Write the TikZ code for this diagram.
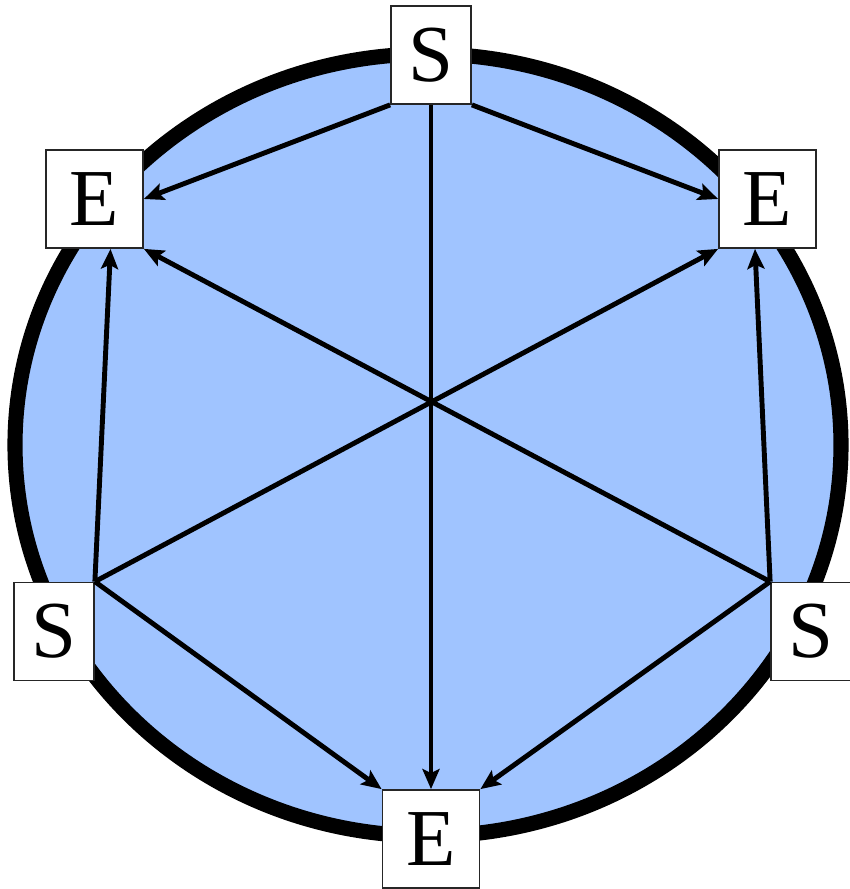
\documentclass[tikz,border=0pt]{standalone}
\usepackage{fontspec}
\setmainfont{Liberation Serif}
\usetikzlibrary{arrows.meta,positioning}
\definecolor{sky}{RGB}{160,196,255}
\definecolor{ink}{RGB}{0,0,0}
\tikzset{
  >={Stealth[length=2mm,width=1.7mm,inset=0.4mm]},
  station/.style={draw=ink!85,fill=white,line width=0.5pt,inner sep=0pt,
    minimum width=#1,minimum height=9.8mm,font=\fontsize{23}{24}\selectfont},
  station/.default=8mm,
  flow/.style={->,line width=1.4pt,draw=ink},
  ring/.style={draw=ink,fill=sky,line width=4.3pt},
}

\begin{document}
\begin{tikzpicture}
  \useasboundingbox (0,0) rectangle (8.5,-8.89);
  % the ring
  \draw[ring] (4.28,-4.45) ellipse [x radius=4.13,y radius=3.91];
  % sources and ends
  \node[station] (stop) at (4.31,-0.55) {S};
  \node[station=9.7mm] (eleft) at (0.945,-1.99) {E};
  \node[station=9.7mm] (eright) at (7.675,-1.99) {E};
  \node[station] (sleft) at (0.54,-6.315) {S};
  \node[station] (sright) at (8.11,-6.315) {S};
  \node[station=9.7mm] (ebot) at (4.31,-8.39) {E};
  % flows
  \draw[flow] (stop.south west) -- (eleft.east);
  \draw[flow] (stop.south east) -- (eright.west);
  \draw[flow] (stop.south) -- (ebot.north);
  \draw[flow] (sleft.north east) -- ([xshift=1.6mm]eleft.south);
  \draw[flow] (sleft.north east) -- (eright.south west);
  \draw[flow] (sleft.north east) -- (ebot.north west);
  \draw[flow] (sright.north west) -- ([xshift=-1.25mm]eright.south);
  \draw[flow] (sright.north west) -- (eleft.south east);
  \draw[flow] (sright.north west) -- (ebot.north east);
\end{tikzpicture}
\end{document}
